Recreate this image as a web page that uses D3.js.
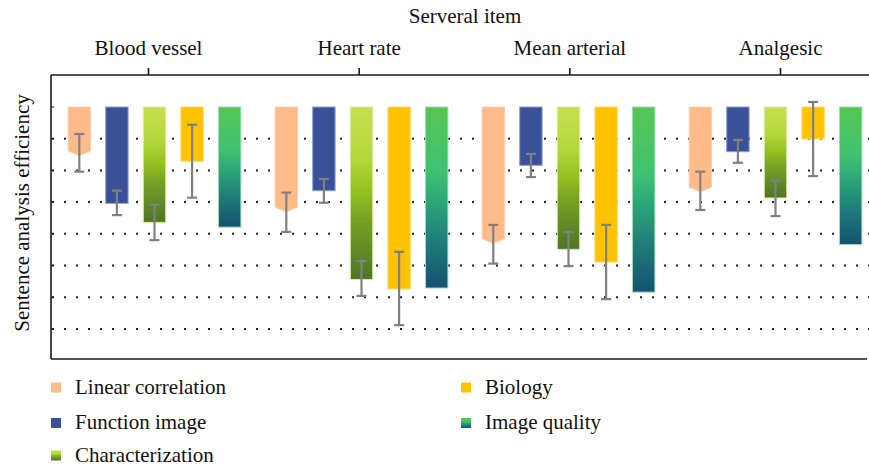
<!DOCTYPE html>
<html>
<head>
<meta charset="utf-8">
<script src="https://cdn.jsdelivr.net/npm/d3@7"></script>
<style>
  html, body { margin: 0; padding: 0; background: #fff; }
  svg { display: block; }
  text { font-family: "Liberation Serif", "Times New Roman", "DejaVu Serif", serif; fill: #111; }
</style>
</head>
<body>
<svg id="chart" width="869" height="466"></svg>
<script>
// ---- data ----
const groups = ["Blood vessel", "Heart rate", "Mean arterial", "Analgesic"];
const seriesNames = ["Linear correlation", "Function image", "Characterization", "Biology", "Image quality"];
// values per series, one per group (in grid units, bars hang downward from 0)
const linearCorrelation = [1.39, 3.16, 4.16, 2.53];
const functionImage     = [3.04, 2.64, 1.84, 1.41];
const characterization  = [3.64, 5.44, 4.49, 2.87];
const biology           = [1.71, 5.74, 4.89, 1.01];
const imageQuality      = [3.79, 5.71, 5.84, 4.34];
// error bar extents [low, high] per series and group (null = none)
const errLinearCorrelation = [[0.85, 2.04], [2.70, 3.94], [3.72, 4.94], [2.04, 3.25]];
const errFunctionImage     = [[2.64, 3.41], [2.27, 3.02], [1.48, 2.21], [1.04, 1.76]];
const errCharacterization  = [[3.08, 4.20], [4.86, 5.96], [3.94, 5.02], [2.32, 3.44]];
const errBiology           = [[0.56, 2.86], [4.57, 6.88], [3.72, 6.06], [-0.16, 2.18]];
const errImageQuality      = [null, null, null, null];
const gridLevels = [1, 2, 3, 4, 5, 6, 7];
const tickLevels = [0, 1, 2, 3, 4, 5, 6, 7];
const titleTop = "Serveral item";
const yTitle = "Sentence analysis efficiency";

const seriesValues = [linearCorrelation, functionImage, characterization, biology, imageQuality];
const seriesErr = [errLinearCorrelation, errFunctionImage, errCharacterization, errBiology, errImageQuality];

// ---- layout ----
const FONT = '"Liberation Serif", "Times New Roman", "DejaVu Serif", serif';
const FS = 21;
const svg = d3.select("#chart");
const W = 869;
const frame = { left: 51, top: 75, bottom: 359, right: 867 };

const x0 = d3.scaleBand().domain(groups).range([60.5, 869.5]).paddingInner(1 - 188 / 207).paddingOuter(0);
const x1 = d3.scaleBand().domain(seriesNames).range([0, x0.bandwidth()]).paddingInner(0.404).paddingOuter(0.202);
const y = d3.scaleLinear().domain([0, 8]).range([107, 107 + 8 * 31.7]);
const xTop = d3.scalePoint().domain(groups).range([148, 780]);

// ---- gradients ----
const defs = svg.append("defs");
function grad(id, stops) {
  const g = defs.append("linearGradient").attr("id", id)
    .attr("x1", 0).attr("y1", 0).attr("x2", 0).attr("y2", 1);
  stops.forEach(s => g.append("stop").attr("offset", s[0]).attr("stop-color", s[1]));
}
grad("gChar", [[0, "#c6e14f"], [0.3, "#b2d83a"], [0.5, "#92bf1e"], [0.65, "#78a124"], [1, "#4e7426"]]);
grad("gIQ", [[0, "#56c652"], [0.35, "#40c272"], [0.55, "#2aa279"], [0.75, "#1f7b78"], [1, "#155272"]]);

const fills = ["#fdbb8a", "#3a5098", "url(#gChar)", "#fdc200", "url(#gIQ)"];
const strokes = ["#fdd0ad", "#8d9fd0", "#d8eca0", "#fed966", "#9fdcb5"];

// ---- grid ----
svg.append("g").selectAll("line").data(gridLevels).join("line")
  .attr("x1", frame.left + 1).attr("x2", W)
  .attr("y1", d => y(d)).attr("y2", d => y(d))
  .attr("stroke", "#222").attr("stroke-width", 2)
  .attr("stroke-dasharray", "2,10");

// ---- bars ----
const tip = 4.5;
seriesNames.forEach((s, si) => {
  const g = svg.append("g");
  groups.forEach((grp, gi) => {
    const v = seriesValues[si][gi];
    const xl = x0(grp) + x1(s);
    const bw = x1.bandwidth();
    if (si === 0) {
      const yb = y(v);
      const p = `M${xl},${y(0)}L${xl + bw},${y(0)}L${xl + bw},${yb}L${xl + bw / 2},${yb + tip}L${xl},${yb}Z`;
      g.append("path").attr("d", p).attr("fill", fills[si])
        .attr("stroke", strokes[si]).attr("stroke-width", 1);
    } else {
      g.append("rect").attr("x", xl).attr("y", y(0))
        .attr("width", bw).attr("height", y(v) - y(0))
        .attr("fill", fills[si]).attr("stroke", strokes[si]).attr("stroke-width", 1);
    }
  });
});

// ---- error bars ----
const eg = svg.append("g").attr("stroke", "#808080").attr("stroke-width", 2.2);
seriesNames.forEach((s, si) => {
  groups.forEach((grp, gi) => {
    const e = seriesErr[si][gi];
    if (!e) return;
    const cx = x0(grp) + x1(s) + x1.bandwidth() / 2;
    eg.append("line").attr("x1", cx).attr("x2", cx).attr("y1", y(e[0])).attr("y2", y(e[1]));
    eg.append("line").attr("x1", cx - 5).attr("x2", cx + 5).attr("y1", y(e[0])).attr("y2", y(e[0]));
    eg.append("line").attr("x1", cx - 5).attr("x2", cx + 5).attr("y1", y(e[1])).attr("y2", y(e[1]));
  });
});

// ---- frame ----
const fg = svg.append("g").attr("stroke", "#1a1a1a").attr("stroke-width", 1.6).attr("fill", "none");
fg.append("line").attr("x1", frame.left).attr("x2", frame.left).attr("y1", frame.top).attr("y2", frame.bottom);
fg.append("line").attr("x1", frame.left).attr("x2", W).attr("y1", frame.top).attr("y2", frame.top);
fg.append("line").attr("x1", frame.left).attr("x2", frame.right).attr("y1", frame.bottom).attr("y2", frame.bottom);

// left ticks (inward)
svg.append("g").selectAll("line").data(tickLevels).join("line")
  .attr("x1", frame.left).attr("x2", frame.left + 3)
  .attr("y1", d => y(d)).attr("y2", d => y(d))
  .attr("stroke", "#1a1a1a").attr("stroke-width", 1);

// top axis
const topAxis = d3.axisTop(xTop).tickSize(7).tickPadding(13);
const ta = svg.append("g").attr("transform", `translate(0,${frame.top})`).call(topAxis)
  .attr("font-family", FONT);
ta.select(".domain").remove();
ta.selectAll(".tick line").attr("stroke", "#1a1a1a").attr("stroke-width", 1.6);
ta.selectAll(".tick text").attr("font-size", FS).attr("fill", "#111")
  .style("font-family", FONT);

svg.append("text").attr("x", 465).attr("y", 23).attr("text-anchor", "middle")
  .attr("font-size", FS).style("font-family", FONT).text(titleTop);

svg.append("text").attr("transform", "translate(29,213) rotate(-90)")
  .attr("text-anchor", "middle").attr("font-size", FS).style("font-family", FONT).text(yTitle);

// ---- legend ----
const legendPos = [
  { x: 51, y: 387.5 }, { x: 51, y: 423 }, { x: 51, y: 455.5 },
  { x: 461, y: 387.5 }, { x: 461, y: 423 }
];
const lg = svg.append("g");
seriesNames.forEach((s, si) => {
  const p = legendPos[si];
  lg.append("rect").attr("x", p.x).attr("y", p.y - 5).attr("width", 10).attr("height", 10)
    .attr("fill", fills[si]);
  lg.append("text").attr("x", p.x + 24).attr("y", p.y + 6).attr("font-size", FS)
    .style("font-family", FONT).text(s);
});
</script>
</body>
</html>
